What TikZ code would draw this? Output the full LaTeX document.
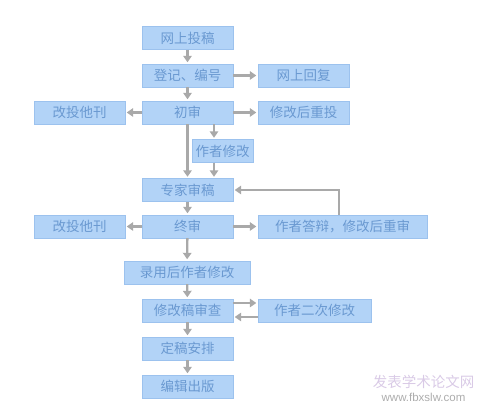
\documentclass[tikz,border=0pt]{standalone}
\usepackage{fontspec}
\newfontfamily\cjk{Noto Sans CJK SC}
\setsansfont{Liberation Sans}
\usetikzlibrary{arrows.meta}
\definecolor{boxfill}{HTML}{B2D3F7}
\definecolor{boxline}{HTML}{9CC2EE}
\definecolor{boxtext}{HTML}{6A99D1}
\definecolor{arrowgray}{HTML}{A9A9A9}
\definecolor{markpink}{HTML}{D9CAE6}
\definecolor{markgray}{HTML}{ADADAD}

\begin{document}
\begin{tikzpicture}[
    x=1pt, y=-1pt,
    flowbox/.style={
        draw=boxline,
        fill=boxfill,
        minimum width=91pt,
        minimum height=23pt,
        inner sep=0pt,
        text=boxtext,
        font=\cjk\fontsize{13.5}{13.5}\selectfont
    },
    flow/.style={
        draw=arrowgray,
        line width=2.3pt,
        shorten >=1.5pt,
        -{Triangle[length=6.5pt,width=8.5pt]}
    }
]
    \useasboundingbox (0,0) rectangle (488,411);

    % main column
    \node[flowbox] (submit) at (187.5,38) {网上投稿};
    \node[flowbox] (register) at (187.5,75.5) {登记、编号};
    \node[flowbox] (first) at (187.5,112.5) {初审};
    \node[flowbox, minimum width=61pt] (authorfix) at (222.5,151) {作者修改};
    \node[flowbox] (expert) at (187.5,190) {专家审稿};
    \node[flowbox] (final) at (187.5,226.5) {终审};
    \node[flowbox, minimum width=126pt] (accepted) at (187,272.5) {录用后作者修改};
    \node[flowbox] (revcheck) at (187.5,310.5) {修改稿审查};
    \node[flowbox] (finalize) at (187.5,348.5) {定稿安排};
    \node[flowbox] (publish) at (187.5,386.5) {编辑出版};

    % side boxes
    \node[flowbox] (reply) at (303.5,75.5) {网上回复};
    \node[flowbox] (otherA) at (79.5,112.5) {改投他刊};
    \node[flowbox] (resubmit) at (303.5,112.5) {修改后重投};
    \node[flowbox] (otherB) at (79.5,226.5) {改投他刊};
    \node[flowbox, minimum width=169pt] (defend) at (342.5,226.5) {作者答辩，修改后重审};
    \node[flowbox, minimum width=113pt] (second) at (314.5,310.5) {作者二次修改};

    \coordinate (branch) at (214,0);

    % connectors
    \draw[flow] (submit) -- (register);
    \draw[flow] (register) -- (first);
    \draw[flow] (register) -- (reply);
    \draw[flow] (first) -- (otherA);
    \draw[flow] (first) -- (resubmit);
    \draw[flow] (first) -- (expert);
    \draw[flow] (first.south -| branch) -- (authorfix.north -| branch);
    \draw[flow] (authorfix.south -| branch) -- (expert.north -| branch);
    \draw[flow] (expert) -- (final);
    \draw[flow] (final) -- (otherB);
    \draw[flow] (final) -- (defend);
    \draw[flow] ([xshift=-3.5pt]defend.north) |- (expert.east);
    \draw[flow] (final) -- (accepted);
    \draw[flow] (accepted) -- (revcheck);
    \draw[flow] ([yshift=7.5pt]revcheck.east) -- ([yshift=7.5pt]second.west);
    \draw[flow] ([yshift=-6.5pt]second.west) -- ([yshift=-6.5pt]revcheck.east);
    \draw[flow] (revcheck) -- (finalize);
    \draw[flow] (finalize) -- (publish);

    % watermark
    \node[text=markpink, font=\cjk\fontsize{14.5}{14.5}\selectfont] (mark) at (423.5,382) {发表学术论文网};
    \node[text=markgray, font=\sffamily\fontsize{11.5}{11.5}\selectfont] (markurl) at (423.5,397) {www.fbxslw.com};
\end{tikzpicture}
\end{document}
